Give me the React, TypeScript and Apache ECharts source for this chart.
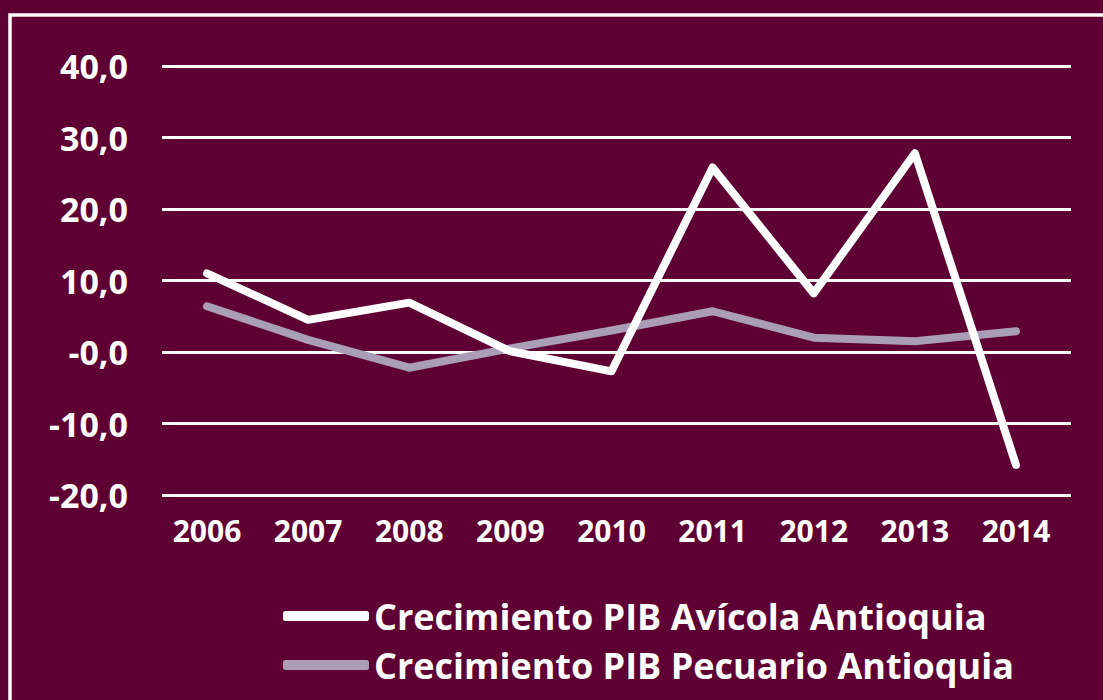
import React, { useEffect, useRef } from "react";
import * as echarts from "echarts";

const years = [2006, 2007, 2008, 2009, 2010, 2011, 2012, 2013, 2014];
const avicola = [11.0, 4.5, 6.9, 0.1, -2.7, 25.8, 8.2, 27.8, -15.8];
const pecuario = [6.4, 1.7, -2.2, 0.5, 3.0, 5.7, 2.0, 1.5, 2.9];
const yTicks = [-20, -10, 0, 10, 20, 30, 40];
const seriesNames = ["Crecimiento PIB Avícola Antioquia", "Crecimiento PIB Pecuario Antioquia"];

const BG = "#5e0033";
const FONT = "'Open Sans', 'DejaVu Sans', sans-serif";

export default function App() {
  const ref = useRef<HTMLDivElement>(null);
  useEffect(() => {
    if (!ref.current) return;
    const chart = echarts.init(ref.current, undefined, { renderer: "svg" });
    const fmt = (v: number) => (v === 0 ? "-0,0" : v.toFixed(1).replace(".", ","));
    chart.setOption({
      animation: false,
      backgroundColor: BG,
      grid: { left: 162, right: 32, top: 66, bottom: 205, containLabel: false },
      graphic: [
        {
          type: "rect",
          shape: { x: 10, y: 15, width: 1200, height: 800 },
          style: { fill: "none", stroke: "#ffffff", lineWidth: 3.5 },
          silent: true,
        },
      ],
      xAxis: {
        type: "value",
        min: 2005.555,
        max: 2014.544,
        axisLine: { show: false, onZero: false },
        axisTick: { show: false },
        splitLine: { show: false },
        axisLabel: {
          customValues: years,
          formatter: (v: number) => String(Math.round(v)),
          color: "#ffffff",
          fontFamily: FONT,
          fontWeight: "bold",
          fontSize: 30,
          margin: 20,
        },
      },
      yAxis: {
        type: "value",
        min: yTicks[0],
        max: yTicks[yTicks.length - 1],
        interval: 10,
        axisLine: { show: false },
        axisTick: { show: false },
        splitLine: { show: true, lineStyle: { color: "#ffffff", width: 3 } },
        axisLabel: {
          formatter: fmt,
          color: "#ffffff",
          fontFamily: FONT,
          fontWeight: "bold",
          fontSize: 34,
          margin: 34,
        },
      },
      legend: {
        orient: "vertical",
        left: 278,
        top: 591,
        itemWidth: 86,
        itemHeight: 10,
        itemGap: 9,
        icon: "roundRect",
        data: seriesNames,
        textStyle: {
          color: "#ffffff",
          fontFamily: FONT,
          fontWeight: "bold",
          fontSize: 36,
          lineHeight: 40,
        },
      },
      series: [
        {
          name: seriesNames[0],
          type: "line",
          data: years.map((y, i) => [y, avicola[i]]),
          symbol: "none",
          color: "#ffffff",
          lineStyle: { color: "#ffffff", width: 8, cap: "round", join: "round" },
          z: 3,
        },
        {
          name: seriesNames[1],
          type: "line",
          data: years.map((y, i) => [y, pecuario[i]]),
          symbol: "none",
          color: "#aa9db7",
          lineStyle: { color: "#aa9db7", width: 8, cap: "round", join: "round" },
          z: 2,
        },
      ],
    });
    return () => chart.dispose();
  }, []);
  return (
    <div
      ref={ref}
      style={{ position: "absolute", left: 0, top: 0, width: 1103, height: 700 }}
    />
  );
}
